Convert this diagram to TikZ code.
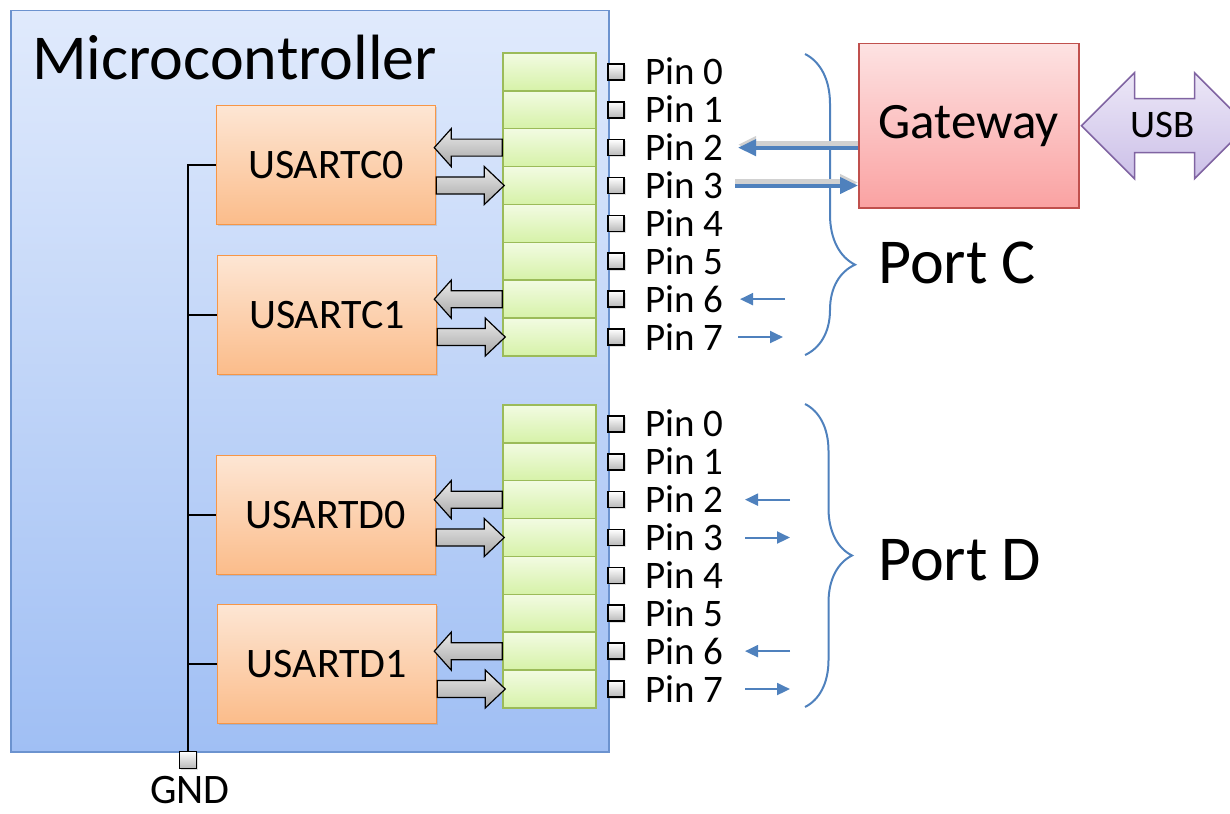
\documentclass[tikz,border=0pt]{standalone}
\usepackage{fontspec}
\setmainfont{Carlito}
\usetikzlibrary{shadows,decorations.pathreplacing,arrows.meta}

\definecolor{mcTop}{RGB}{224,234,252}
\definecolor{mcBot}{RGB}{160,191,244}
\definecolor{mcLine}{RGB}{108,147,207}
\definecolor{usTop}{RGB}{253,230,212}
\definecolor{usBot}{RGB}{251,188,138}
\definecolor{usLine}{RGB}{247,150,70}
\definecolor{rgTop}{RGB}{242,251,226}
\definecolor{rgBot}{RGB}{214,242,168}
\definecolor{rgLine}{RGB}{155,187,89}
\definecolor{gwTop}{RGB}{253,226,226}
\definecolor{gwBot}{RGB}{250,162,162}
\definecolor{gwLine}{RGB}{192,80,77}
\definecolor{usbTop}{RGB}{236,231,247}
\definecolor{usbBot}{RGB}{204,192,232}
\definecolor{usbLine}{RGB}{128,100,162}
\definecolor{wireBlue}{RGB}{79,129,189}

\newcommand\titlesize{\fontsize{64}{70}\selectfont}
\newcommand\pinsize{\fontsize{39}{44}\selectfont}
\newcommand\usartsize{\fontsize{42}{48}\selectfont}

\tikzset{
  softshadow/.style={drop shadow={opacity=0.25,shadow xshift=1.5pt,shadow yshift=-1.5pt}},
  mcbox/.style={draw=mcLine, line width=1.5pt, top color=mcTop, bottom color=mcBot,
    softshadow, anchor=north west, minimum width=598, minimum height=741, inner sep=0},
  usart/.style={draw=usLine, line width=1.5pt, top color=usTop, bottom color=usBot,
    softshadow, minimum width=219, minimum height=119, font=\usartsize},
  cell/.style={draw=rgLine, line width=1.5pt, top color=rgTop, bottom color=rgBot,
    minimum width=93, minimum height=37.875, inner sep=0},
  pinsq/.style={draw=black, line width=1.6pt, top color=white, bottom color=black!28,
    softshadow, minimum size=16, inner sep=0},
  pinlbl/.style={anchor=base west, inner sep=0, font=\pinsize},
  blk/.style={draw=black, line width=1.2pt, top color=black!8, bottom color=black!35},
  bigwire/.style={draw=wireBlue, line width=4pt, -{Triangle[length=18pt,width=16pt]},
    preaction={draw=black!18, line width=7pt, transform canvas={yshift=3pt}}},
  smallwire/.style={draw=wireBlue, line width=2pt, -{Triangle[length=13pt,width=12pt]}},
  portbrace/.style={draw=wireBlue, line width=2pt, decorate},
}

\begin{document}
\begin{tikzpicture}[x={(1pt,0)}, y={(0,-1pt)}]
  \useasboundingbox (0,0) rectangle (1230,813);

  % microcontroller
  \node[mcbox] (mc) at (10,10) {};
  \node[anchor=base west, inner sep=0, font=\titlesize] (title) at (32,80) {Microcontroller};

  % ground bus
  \node[pinsq, minimum size=17] (gnd) at (188,760) {};
  \node[anchor=base, inner sep=0, font=\fontsize{42}{48}\selectfont] (gndlbl) at (190,803) {GND};

  % usarts
  \node[usart] (uC0) at (326,165) {USARTC0};
  \node[usart] (uC1) at (327,315) {USARTC1};
  \node[usart] (uD0) at (326,515) {USARTD0};
  \node[usart] (uD1) at (327,664) {USARTD1};

  \draw[line width=1.2pt] (gnd.north) -- (gnd.north |- uC0.west) -- (uC0.west);
  \draw[line width=1.2pt] (uC1.west) -- (uC1.west -| gnd.north);
  \draw[line width=1.2pt] (uD0.west) -- (uD0.west -| gnd.north);
  \draw[line width=1.2pt] (uD1.west) -- (uD1.west -| gnd.north);

  % port registers and pins
  \foreach \i in {0,...,7} {
    \node[cell] (cC\i) at (549.5, {71.9+37.875*\i}) {};
    \node[pinsq] (pC\i) at (616, {71.9+37.875*\i}) {};
    \node[pinlbl] (lC\i) at (645, {84.9+37.875*\i}) {Pin \i};
    \node[cell] (cD\i) at (549.5, {423.9+37.875*\i}) {};
    \node[pinsq] (pD\i) at (616, {423.9+37.875*\i}) {};
    \node[pinlbl] (lD\i) at (645, {436.9+37.875*\i}) {Pin \i};
  }

  % rx / tx block arrows
  \foreach \u/\a/\b in {uC0/C2/C3, uC1/C6/C7, uD0/D2/D3, uD1/D6/D7} {
    \draw[blk] (c\a.west) ++(0,-8.5) -- ++(-51,0) -- ++(0,-10.5) -- ++(-17,19)
      -- ++(17,19) -- ++(0,-10.5) -- ++(51,0) -- cycle;
    \draw[blk] (\u.east |- c\b.west) ++(0,-8.5) -- ++(48,0) -- ++(0,-10.5) -- ++(20,19)
      -- ++(-20,19) -- ++(0,-10.5) -- ++(-48,0) -- cycle;
  }

  % braces
  \draw[portbrace, decoration={brace, amplitude=50pt, aspect=0.7}] (805,54) -- (805,355);
  \draw[portbrace, decoration={brace, amplitude=47pt, aspect=0.5}] (805,404) -- (805,707);
  \node[anchor=west, inner sep=0, font=\titlesize] (portC) at (878,263) {Port C};
  \node[anchor=west, inner sep=0, font=\titlesize] (portD) at (878,560) {Port D};

  % gateway and usb
  \node[draw=gwLine, line width=1.5pt, top color=gwTop, bottom color=gwBot, softshadow,
    anchor=north west, minimum width=220, minimum height=164,
    font=\fontsize{51}{58}\selectfont] (gw) at (858,43) {Gateway};
  \draw[draw=usbLine, line width=1.5pt, top color=usbTop, bottom color=usbBot]
    ([xshift=2pt]gw.east) -- ++(53,-53) -- ++(0,26) -- ++(60,0) -- ++(0,-26) -- ++(53,53)
    -- ++(-53,53) -- ++(0,-26) -- ++(-60,0) -- ++(0,26) -- cycle;
  \node[inner sep=0, font=\pinsize] (usb) at (1163,125) {USB};

  % wires
  \draw[bigwire] (gw.west |- pC2) -- ([xshift=122]pC2.center);
  \draw[bigwire] ([xshift=119]pC3.center) -- (gw.west |- pC3);
  \draw[smallwire] ([xshift=169]pC6.center) -- ([xshift=124]pC6.center);
  \draw[smallwire] ([xshift=122]pC7.center) -- ([xshift=167]pC7.center);
  \draw[smallwire] ([xshift=174]pD2.center) -- ([xshift=129]pD2.center);
  \draw[smallwire] ([xshift=129]pD3.center) -- ([xshift=174]pD3.center);
  \draw[smallwire] ([xshift=174]pD6.center) -- ([xshift=129]pD6.center);
  \draw[smallwire] ([xshift=129]pD7.center) -- ([xshift=174]pD7.center);
\end{tikzpicture}
\end{document}
